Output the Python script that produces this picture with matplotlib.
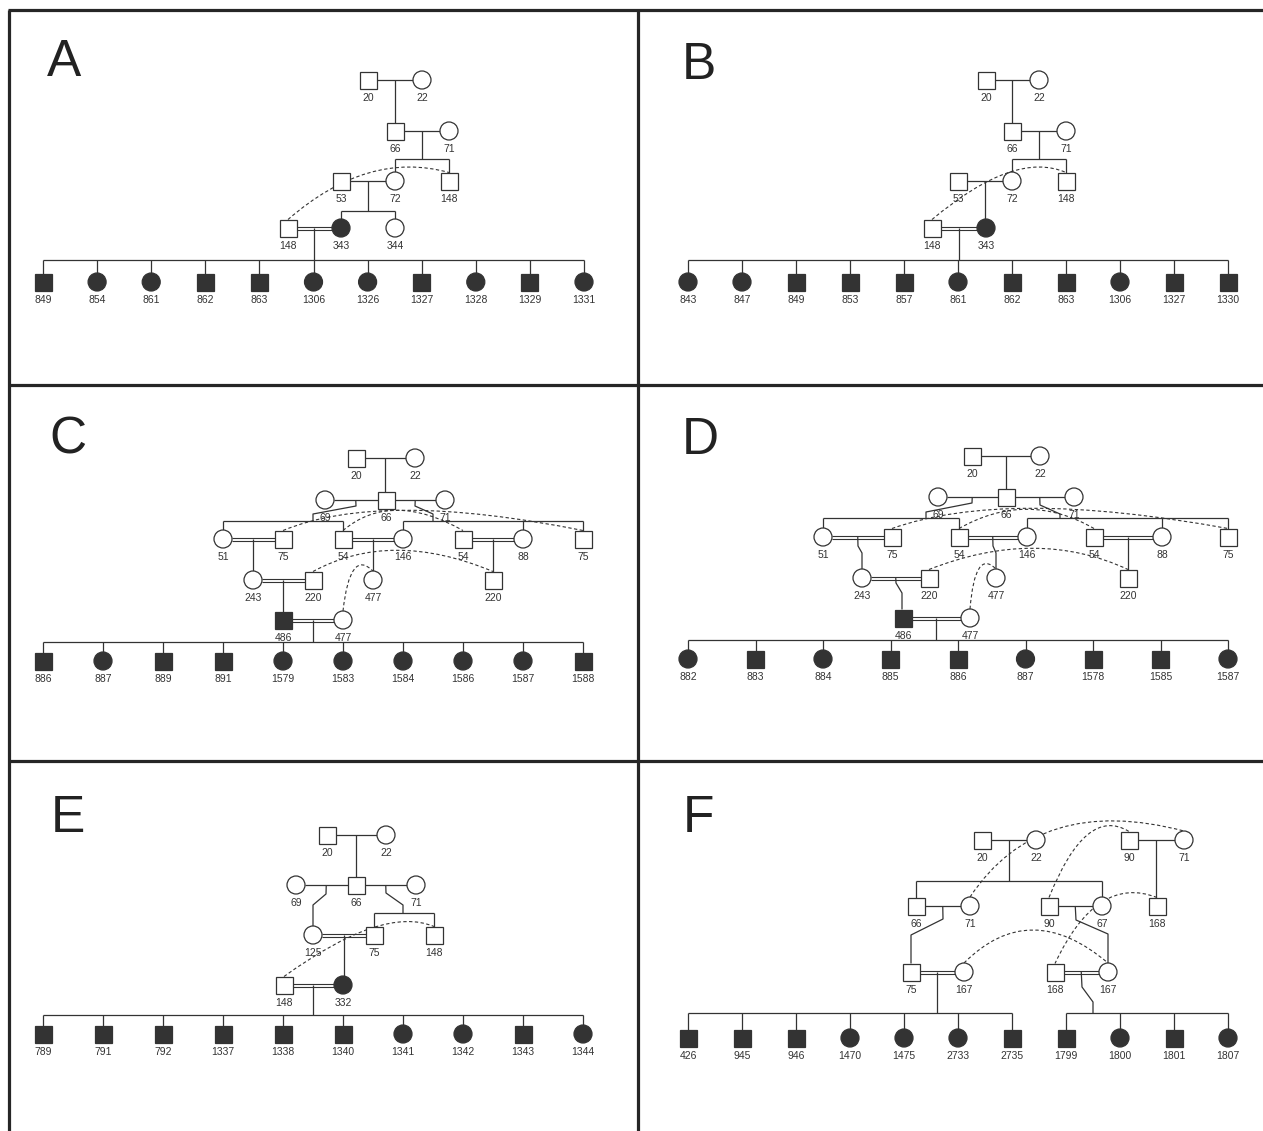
import numpy as np
import matplotlib
matplotlib.use('Agg')
import matplotlib.pyplot as plt
from matplotlib.patches import Rectangle, Ellipse, PathPatch
from matplotlib.path import Path

plt.rcParams['font.family'] = ['Liberation Sans', 'DejaVu Sans']

INK = '#333333'
FRAME = '#262626'

# ---------------- A ----------------
A_MEMBERS = {
    'a20': ('20', 'm', 0), 'a22': ('22', 'f', 0),
    'a66': ('66', 'm', 0), 'a71': ('71', 'f', 0),
    'a53': ('53', 'm', 0), 'a72': ('72', 'f', 0), 'a148u': ('148', 'm', 0),
    'a148': ('148', 'm', 0), 'a343': ('343', 'f', 1), 'a344': ('344', 'f', 0),
}
A_COUPLES = [('a20', 'a22', 0), ('a66', 'a71', 0), ('a53', 'a72', 0), ('a148', 'a343', 1)]
A_FAMILIES = [('a20', 'a22', ['a66']), ('a66', 'a71', ['a72', 'a148u']),
              ('a53', 'a72', ['a343', 'a344'])]
A_LOOPS = [('a148', 'a148u')]
A_KIDS = ['849', '854', '861', '862', '863', '1306', '1326', '1327', '1328', '1329', '1331']
A_KID_SEX = 'mffmmffmfmf'

# ---------------- B ----------------
B_MEMBERS = {
    'b20': ('20', 'm', 0), 'b22': ('22', 'f', 0),
    'b66': ('66', 'm', 0), 'b71': ('71', 'f', 0),
    'b53': ('53', 'm', 0), 'b72': ('72', 'f', 0), 'b148u': ('148', 'm', 0),
    'b148': ('148', 'm', 0), 'b343': ('343', 'f', 1),
}
B_COUPLES = [('b20', 'b22', 0), ('b66', 'b71', 0), ('b53', 'b72', 0), ('b148', 'b343', 1)]
B_FAMILIES = [('b20', 'b22', ['b66']), ('b66', 'b71', ['b72', 'b148u']),
              ('b53', 'b72', ['b343'])]
B_LOOPS = [('b148', 'b148u')]
B_KIDS = ['843', '847', '849', '853', '857', '861', '862', '863', '1306', '1327', '1330']
B_KID_SEX = 'ffmmmfmmfmm'

# ---------------- C ----------------
C_MEMBERS = {
    'c20': ('20', 'm', 0), 'c22': ('22', 'f', 0),
    'c69': ('69', 'f', 0), 'c66': ('66', 'm', 0), 'c71': ('71', 'f', 0),
    'c51': ('51', 'f', 0), 'c75': ('75', 'm', 0), 'c54': ('54', 'm', 0),
    'c146': ('146', 'f', 0), 'c54b': ('54', 'm', 0), 'c88': ('88', 'f', 0),
    'c75b': ('75', 'm', 0),
    'c243': ('243', 'f', 0), 'c220': ('220', 'm', 0), 'c477': ('477', 'f', 0),
    'c220b': ('220', 'm', 0),
    'c486': ('486', 'm', 1), 'c477b': ('477', 'f', 0),
}
C_COUPLES = [('c20', 'c22', 0), ('c69', 'c66', 0), ('c66', 'c71', 0),
             ('c51', 'c75', 1), ('c54', 'c146', 1), ('c54b', 'c88', 1),
             ('c243', 'c220', 1), ('c486', 'c477b', 1)]
C_FAMILIES = [('c20', 'c22', ['c66']), ('c69', 'c66', ['c51', 'c54']),
              ('c66', 'c71', ['c146', 'c88', 'c75b']), ('c51', 'c75', ['c243']),
              ('c54', 'c146', ['c477']), ('c54b', 'c88', ['c220b']),
              ('c243', 'c220', ['c486'])]
C_LOOPS = [('c75', 'c75b'), ('c54', 'c54b'), ('c220', 'c220b'), ('c477b', 'c477')]
C_KIDS = ['886', '887', '889', '891', '1579', '1583', '1584', '1586', '1587', '1588']
C_KID_SEX = 'mfmmfffffm'

# ---------------- D ----------------
D_MEMBERS = {
    'd20': ('20', 'm', 0), 'd22': ('22', 'f', 0),
    'd69': ('69', 'f', 0), 'd66': ('66', 'm', 0), 'd71': ('71', 'f', 0),
    'd51': ('51', 'f', 0), 'd75': ('75', 'm', 0), 'd54': ('54', 'm', 0),
    'd146': ('146', 'f', 0), 'd54b': ('54', 'm', 0), 'd88': ('88', 'f', 0),
    'd75b': ('75', 'm', 0),
    'd243': ('243', 'f', 0), 'd220': ('220', 'm', 0), 'd477': ('477', 'f', 0),
    'd220b': ('220', 'm', 0),
    'd486': ('486', 'm', 1), 'd477b': ('477', 'f', 0),
}
D_COUPLES = [('d20', 'd22', 0), ('d69', 'd66', 0), ('d66', 'd71', 0),
             ('d51', 'd75', 1), ('d54', 'd146', 1), ('d54b', 'd88', 1),
             ('d243', 'd220', 1), ('d486', 'd477b', 1)]
D_FAMILIES = [('d20', 'd22', ['d66']), ('d69', 'd66', ['d51', 'd54']),
              ('d66', 'd71', ['d146', 'd88', 'd75b']), ('d51', 'd75', ['d243']),
              ('d54', 'd146', ['d477']), ('d54b', 'd88', ['d220b']),
              ('d243', 'd220', ['d486'])]
D_LOOPS = [('d75', 'd75b'), ('d54', 'd54b'), ('d220', 'd220b'), ('d477b', 'd477')]
D_KIDS = ['882', '883', '884', '885', '886', '887', '1578', '1585', '1587']
D_KID_SEX = 'fmfmmfmmf'

# ---------------- E ----------------
E_MEMBERS = {
    'e20': ('20', 'm', 0), 'e22': ('22', 'f', 0),
    'e69': ('69', 'f', 0), 'e66': ('66', 'm', 0), 'e71': ('71', 'f', 0),
    'e125': ('125', 'f', 0), 'e75': ('75', 'm', 0), 'e148u': ('148', 'm', 0),
    'e148': ('148', 'm', 0), 'e332': ('332', 'f', 1),
}
E_COUPLES = [('e20', 'e22', 0), ('e69', 'e66', 0), ('e66', 'e71', 0),
             ('e125', 'e75', 1), ('e148', 'e332', 1)]
E_FAMILIES = [('e20', 'e22', ['e66']), ('e69', 'e66', ['e125']),
              ('e66', 'e71', ['e75', 'e148u']), ('e125', 'e75', ['e332'])]
E_LOOPS = [('e148', 'e148u')]
E_KIDS = ['789', '791', '792', '1337', '1338', '1340', '1341', '1342', '1343', '1344']
E_KID_SEX = 'mmmmmmffmf'

# ---------------- F ----------------
F_MEMBERS = {
    'f20': ('20', 'm', 0), 'f22': ('22', 'f', 0),
    'f90u': ('90', 'm', 0), 'f71u': ('71', 'f', 0),
    'f66': ('66', 'm', 0), 'f71': ('71', 'f', 0), 'f90': ('90', 'm', 0),
    'f67': ('67', 'f', 0), 'f168u': ('168', 'm', 0),
    'f75': ('75', 'm', 0), 'f167': ('167', 'f', 0),
    'f168': ('168', 'm', 0), 'f167b': ('167', 'f', 0),
}
F_COUPLES = [('f20', 'f22', 0), ('f90u', 'f71u', 0), ('f66', 'f71', 0),
             ('f90', 'f67', 0), ('f75', 'f167', 1), ('f168', 'f167b', 1)]
F_FAMILIES = [('f20', 'f22', ['f66', 'f67']), ('f90u', 'f71u', ['f168u']),
              ('f66', 'f71', ['f75']), ('f90', 'f67', ['f167b'])]
F_LOOPS = [('f71', 'f71u'), ('f90', 'f90u'), ('f168u', 'f168'), ('f167', 'f167b')]
F_KIDS_L = ['426', '945', '946', '1470', '1475', '2733', '2735']
F_KID_SEX_L = 'mmmfffm'
F_KIDS_R = ['1799', '1800', '1801', '1807']
F_KID_SEX_R = 'mfmf'

# ---------------- layout (pixel grid) ----------------
A_POS = {'a20': (368, 80), 'a22': (422, 80), 'a66': (395, 131), 'a71': (449, 131),
         'a53': (341, 181), 'a72': (395, 181), 'a148u': (449, 181),
         'a148': (288, 228), 'a343': (341, 228), 'a344': (395, 228)}
A_SIBS = {('a66', 'a71'): (159, []), ('a53', 'a72'): (211, [])}
A_CTRL = [(368, 150)]

B_POS = {'b20': (986, 80), 'b22': (1039, 80), 'b66': (1012, 131), 'b71': (1066, 131),
         'b53': (958, 181), 'b72': (1012, 181), 'b148u': (1066, 181),
         'b148': (932, 228), 'b343': (986, 228)}
B_SIBS = {('b66', 'b71'): (159, [])}
B_CTRL = [(1015, 150)]

C_POS = {'c20': (356, 458), 'c22': (415, 458),
         'c69': (325, 500), 'c66': (386, 500), 'c71': (445, 500),
         'c51': (223, 539), 'c75': (283, 539), 'c54': (343, 539), 'c146': (403, 539),
         'c54b': (463, 539), 'c88': (523, 539), 'c75b': (583, 539),
         'c243': (253, 580), 'c220': (313, 580), 'c477': (373, 580), 'c220b': (493, 580),
         'c486': (283, 620), 'c477b': (343, 620)}
C_SIBS = {('c69', 'c66'): (521, [(356, 506), (313, 514)]),
          ('c66', 'c71'): (521, [(415, 506), (433, 514)])}
C_CTRL = [(381, 490), (391, 490), (391, 529), (350, 548)]

D_POS = {'d20': (972, 456), 'd22': (1040, 456),
         'd69': (938, 497), 'd66': (1006, 497), 'd71': (1074, 497),
         'd51': (823, 537), 'd75': (892, 537), 'd54': (959, 537), 'd146': (1027, 537),
         'd54b': (1094, 537), 'd88': (1162, 537), 'd75b': (1228, 537),
         'd243': (862, 578), 'd220': (929, 578), 'd477': (996, 578), 'd220b': (1128, 578),
         'd486': (903, 618), 'd477b': (970, 618)}
D_SIBS = {('d69', 'd66'): (518, [(972, 503), (926, 512)]),
          ('d66', 'd71'): (518, [(1040, 505), (1060, 514)]),
          ('d51', 'd75'): (None, [(858, 546), (862, 553)]),
          ('d54', 'd146'): (None, [(993, 546), (996, 553)]),
          ('d243', 'd220'): (None, [(896, 583), (902, 593)])}
D_CTRL = [(1006, 488), (1027, 490), (1037, 527), (975, 548)]

E_POS = {'e20': (327, 835), 'e22': (386, 835),
         'e69': (296, 885), 'e66': (356, 885), 'e71': (416, 885),
         'e125': (313, 935), 'e75': (374, 935), 'e148u': (434, 935),
         'e148': (284, 985), 'e332': (343, 985)}
E_SIBS = {('e69', 'e66'): (None, [(326, 894), (313, 905)]),
          ('e66', 'e71'): (913, [(386, 893), (403, 905)])}
E_CTRL = [(383, 905)]

F_POS = {'f20': (982, 840), 'f22': (1036, 840), 'f90u': (1129, 840), 'f71u': (1184, 840),
         'f66': (916, 906), 'f71': (970, 906), 'f90': (1049, 906), 'f67': (1102, 906),
         'f168u': (1157, 906),
         'f75': (911, 972), 'f167': (964, 972), 'f168': (1055, 972), 'f167b': (1108, 972)}
F_SIBS = {('f20', 'f22'): (881, []),
          ('f66', 'f71'): (None, [(943, 919), (911, 935)]),
          ('f90', 'f67'): (None, [(1076, 920), (1108, 934)])}
F_CTRL = [(1039, 793), (1086, 805), (1097, 874), (1030, 897)]

# kid rows: x first, x last, sibship line y, symbol y
A_ROW = (43, 584, 260, 282)
B_ROW = (688, 1228, 260, 282)
C_ROW = (43, 583, 642, 661)
D_ROW = (688, 1228, 640, 659)
E_ROW = (43, 583, 1015, 1034)
F_ROW_L = (688, 1012, 1013, 1038)
F_ROW_R = (1066, 1228, 1013, 1038)


def half(sex):
    return 8.5 if sex == 'm' else 9.0


def person(ax, x, y, label, sex, aff):
    fc = INK if aff else 'white'
    if sex == 'm':
        ax.add_patch(Rectangle((x - 8.5, y - 8.5), 17, 17, fc=fc, ec=INK, lw=0.9, zorder=3))
    else:
        ax.add_patch(Ellipse((x, y), 18, 18, fc=fc, ec=INK, lw=0.9, zorder=3))
    ax.text(x, y + 18, label, ha='center', va='center', fontsize=7.5, color=INK, zorder=4)


def seg(ax, xs, ys, lw=0.9):
    ax.plot(xs, ys, color=INK, lw=lw, solid_capstyle='butt', zorder=2)


def pedigree(ax, members, pos, couples, families, sibs, loops, ctrl, kid_groups):
    members = dict(members)
    pos = dict(pos)
    families = list(families)
    sibs = dict(sibs)
    for parents, labels, sexes, row, bends in kid_groups:
        x0, x1, sib_y, y = row
        keys = []
        for i, x in enumerate(np.linspace(x0, x1, len(labels))):
            k = f'{parents[0]}_{i}'
            members[k] = (labels[i], sexes[i], 1)
            pos[k] = (x, y)
            keys.append(k)
        families.append((parents[0], parents[1], keys))
        sibs[parents] = (sib_y, bends)

    for k, (lab, sx, aff) in members.items():
        person(ax, *pos[k], lab, sx, aff)

    for a, b, dbl in couples:
        (xa, ya), (xb, _) = pos[a], pos[b]
        x0 = xa + half(members[a][1])
        x1 = xb - half(members[b][1])
        if dbl:
            seg(ax, [x0, x1], [ya - 1.5, ya - 1.5], lw=0.8)
            seg(ax, [x0, x1], [ya + 1.5, ya + 1.5], lw=0.8)
        else:
            seg(ax, [x0, x1], [ya, ya])

    for a, b, kids in families:
        (xa, ya), (xb, _) = pos[a], pos[b]
        mx = (xa + half(members[a][1]) + xb - half(members[b][1])) / 2
        sib_y, bends = sibs.get((a, b), (None, []))
        pts = [(mx, ya)] + list(bends)
        if sib_y is None:
            kx, ky = pos[kids[0]]
            pts.append((pts[-1][0], ky - half(members[kids[0]][1])))
            seg(ax, [p[0] for p in pts], [p[1] for p in pts])
            continue
        pts.append((pts[-1][0], sib_y))
        seg(ax, [p[0] for p in pts], [p[1] for p in pts])
        xs = [pos[k][0] for k in kids]
        if len(kids) > 1:
            seg(ax, [min(xs), max(xs)], [sib_y, sib_y])
        for k in kids:
            kx, ky = pos[k]
            seg(ax, [kx, kx], [sib_y, ky - half(members[k][1])])

    for (a, b), c in zip(loops, ctrl):
        xa, ya = pos[a]
        xb, yb = pos[b]
        p = Path([(xa, ya - half(members[a][1])), c, (xb, yb - half(members[b][1]))],
                 [Path.MOVETO, Path.CURVE3, Path.CURVE3])
        ax.add_patch(PathPatch(p, fill=False, ec=INK, lw=0.8,
                               ls=(0, (3, 2.2)), zorder=2.5))


fig = plt.figure(figsize=(12.63, 11.31), dpi=100)
ax = fig.add_axes([0, 0, 1, 1])
ax.set_xlim(0, 1263)
ax.set_ylim(1131, 0)
ax.axis('off')

# panel frame
for xs, ys in [([8, 1263], [9.5, 9.5]), ([9, 9], [9.5, 1131]), ([638, 638], [9.5, 1131]),
               ([9, 1263], [384.5, 384.5]), ([9, 1263], [760.5, 760.5])]:
    ax.plot(xs, ys, color=FRAME, lw=2.3, solid_capstyle='butt', zorder=1)

for letter, (x, y) in zip('ABCDEF', [(47, 76), (682, 79), (49, 454),
                                     (682, 454), (51, 832), (683, 832)]):
    ax.text(x, y, letter, fontsize=37, color='#222222', ha='left', va='baseline')

pedigree(ax, A_MEMBERS, A_POS, A_COUPLES, A_FAMILIES, A_SIBS, A_LOOPS, A_CTRL,
         [(('a148', 'a343'), A_KIDS, A_KID_SEX, A_ROW, [])])
pedigree(ax, B_MEMBERS, B_POS, B_COUPLES, B_FAMILIES, B_SIBS, B_LOOPS, B_CTRL,
         [(('b148', 'b343'), B_KIDS, B_KID_SEX, B_ROW, [])])
pedigree(ax, C_MEMBERS, C_POS, C_COUPLES, C_FAMILIES, C_SIBS, C_LOOPS, C_CTRL,
         [(('c486', 'c477b'), C_KIDS, C_KID_SEX, C_ROW, [])])
pedigree(ax, D_MEMBERS, D_POS, D_COUPLES, D_FAMILIES, D_SIBS, D_LOOPS, D_CTRL,
         [(('d486', 'd477b'), D_KIDS, D_KID_SEX, D_ROW, [])])
pedigree(ax, E_MEMBERS, E_POS, E_COUPLES, E_FAMILIES, E_SIBS, E_LOOPS, E_CTRL,
         [(('e148', 'e332'), E_KIDS, E_KID_SEX, E_ROW, [])])
pedigree(ax, F_MEMBERS, F_POS, F_COUPLES, F_FAMILIES, F_SIBS, F_LOOPS, F_CTRL,
         [(('f75', 'f167'), F_KIDS_L, F_KID_SEX_L, F_ROW_L, []),
          (('f168', 'f167b'), F_KIDS_R, F_KID_SEX_R, F_ROW_R,
           [(1082, 987), (1093, 1002)])])

fig.savefig('out.png', dpi=100)
